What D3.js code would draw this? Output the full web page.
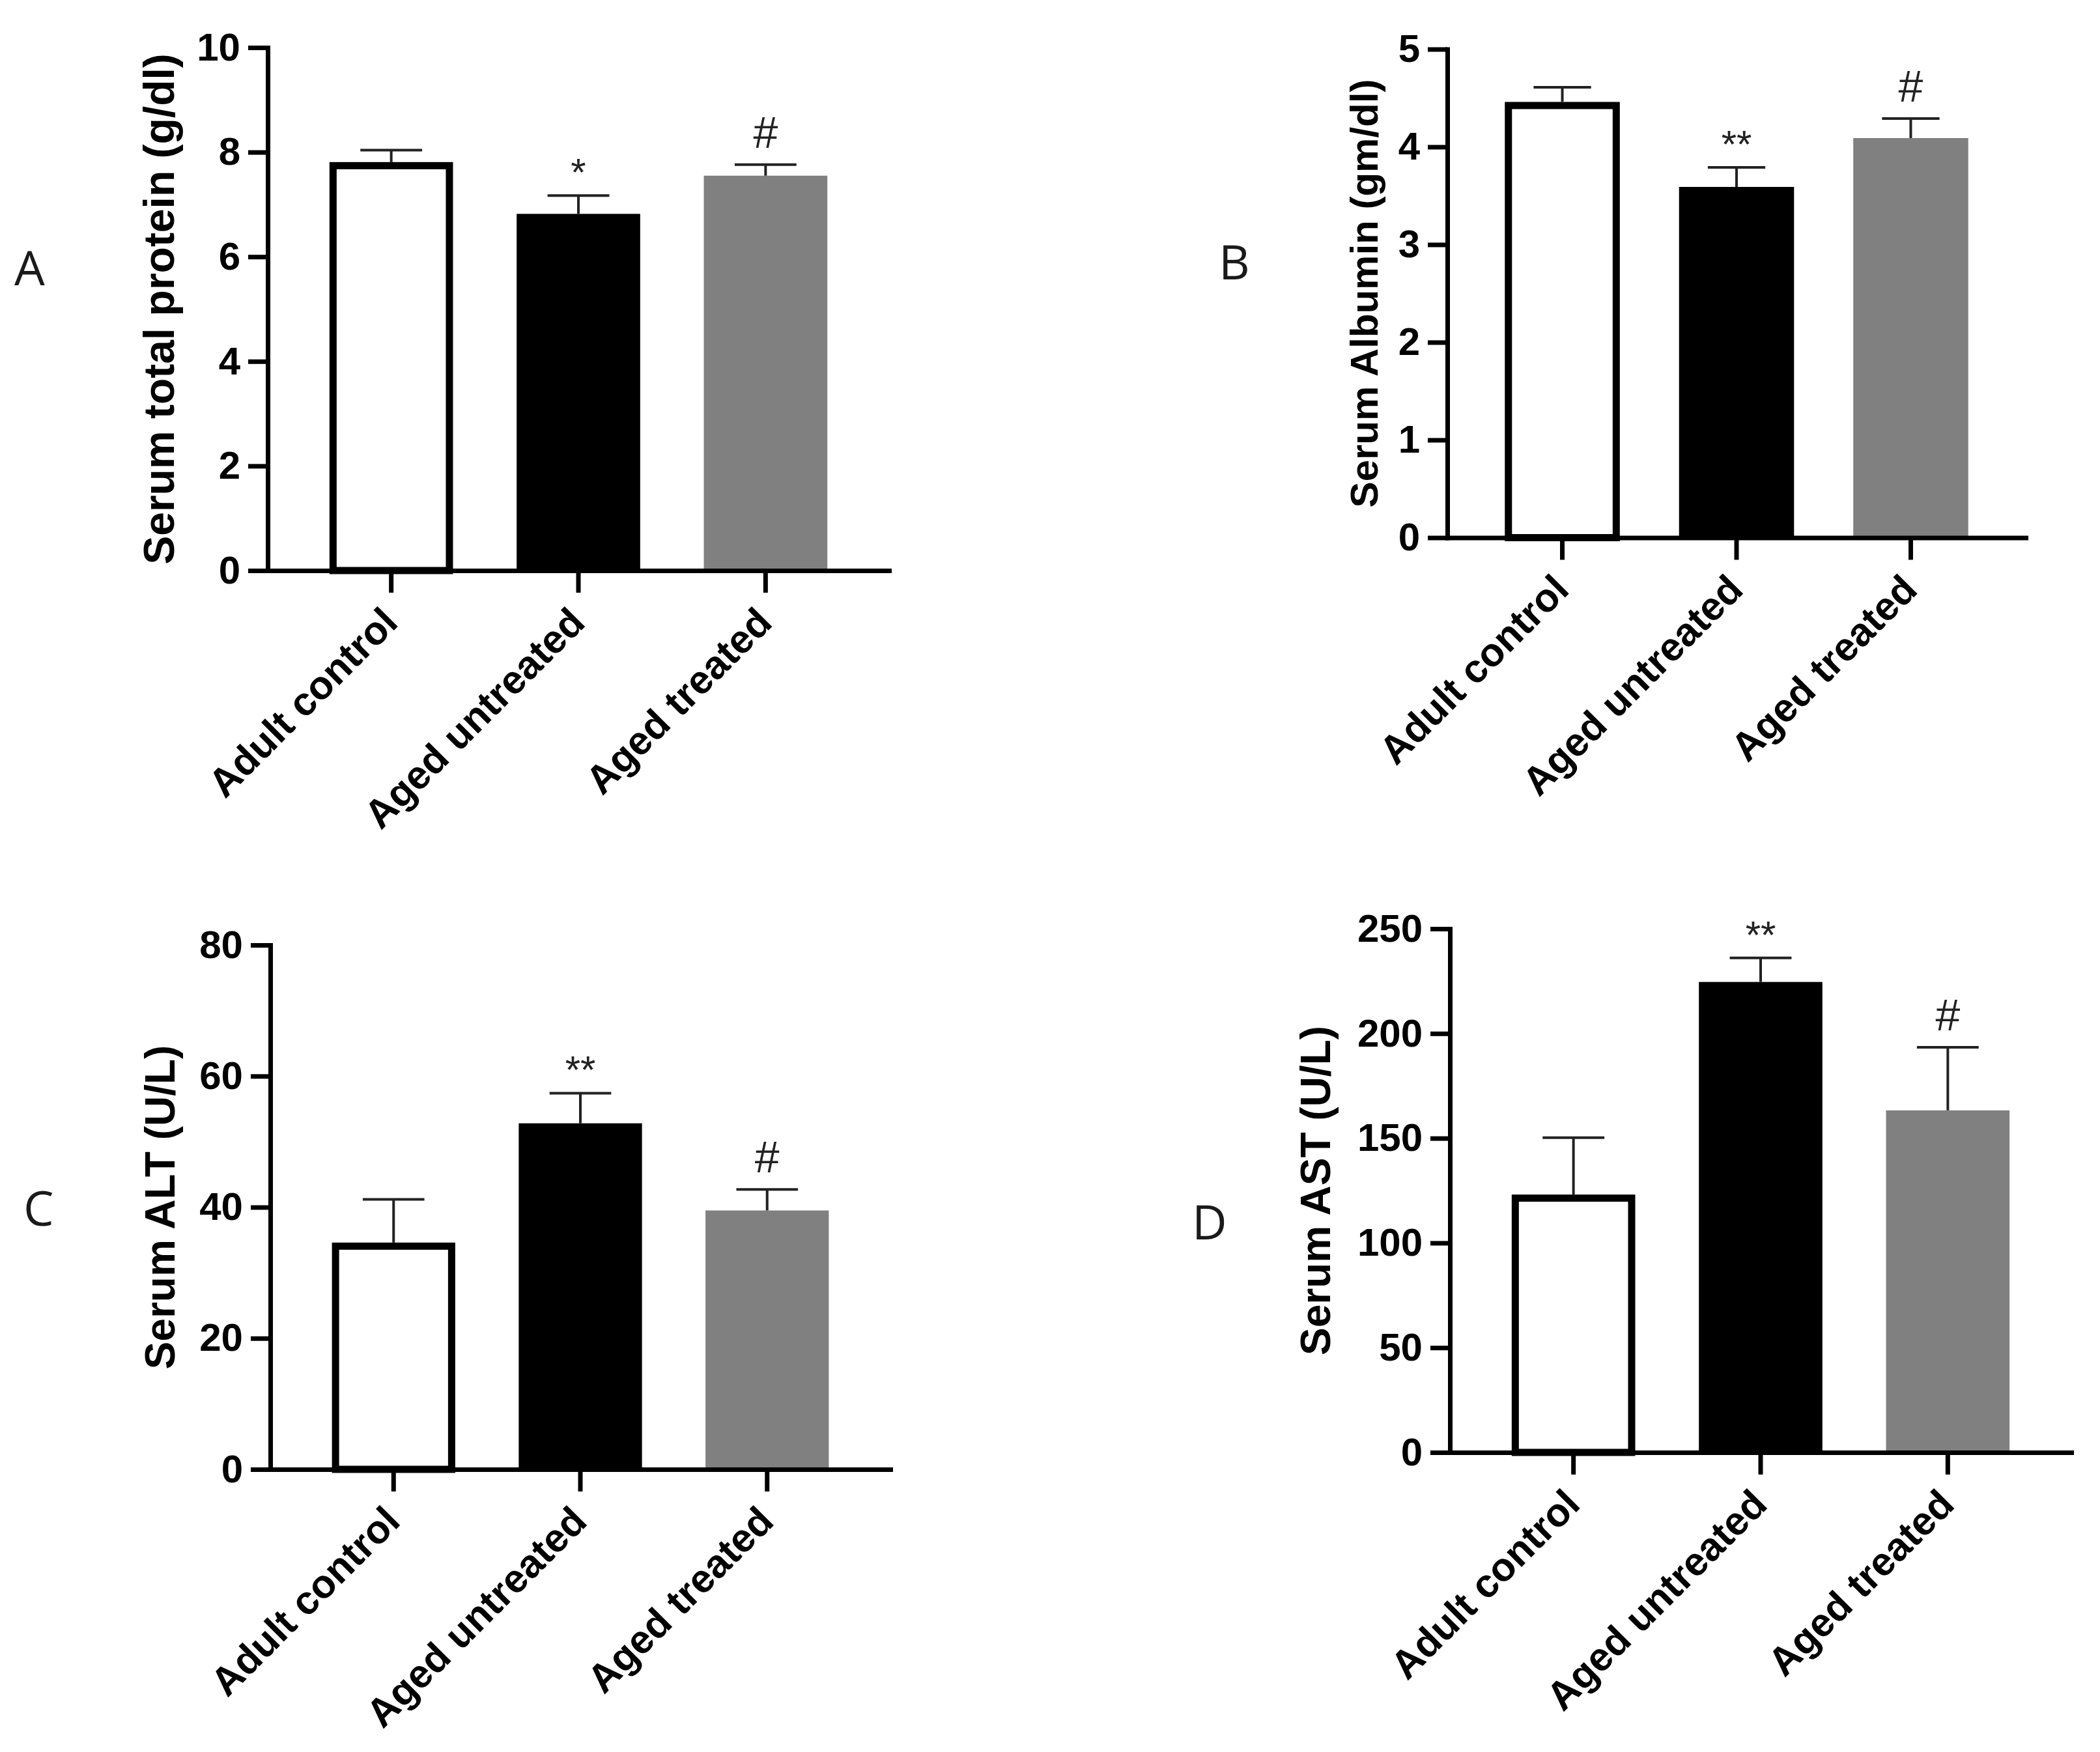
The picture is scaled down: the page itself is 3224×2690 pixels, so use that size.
<!DOCTYPE html>
<html>
<head>
<meta charset="utf-8">
<title>Serum proteins and liver enzymes</title>
<script src="https://cdn.jsdelivr.net/npm/d3@7/dist/d3.min.js"></script>
<style>
  body { margin: 0; background: #fff; }
  svg { display: block; }
</style>
</head>
<body>
<svg id="chart"></svg>
<script>
// groups on the x axis
var categories = ['Adult control', 'Aged untreated', 'Aged treated'];

// mean and SEM
var proteinMean = [7.81, 6.82, 7.55];
var proteinSem  = [0.23, 0.35, 0.21];
var albuminMean = [4.46, 3.59, 4.09];
var albuminSem  = [0.15, 0.20, 0.20];
var altMean = [34.6, 52.8, 39.5];
var altSem  = [6.6, 4.6, 3.2];
var astMean = [123.1, 224.6, 163.3];
var astSem  = [27.2, 11.5, 30.1];

// y tick labels
var proteinTicks = [0, 2, 4, 6, 8, 10];
var albuminTicks = [0, 1, 2, 3, 4, 5];
var altTicks = [0, 20, 40, 60, 80];
var astTicks = [0, 50, 100, 150, 200, 250];

// significance marks above the bars
var proteinSig = ['', '*', '#'];
var albuminSig = ['', '**', '#'];
var altSig = ['', '**', '#'];
var astSig = ['', '**', '#'];

var panelLetters = ['A', 'B', 'C', 'D'];
var yTitles = ['Serum total protein (g/dl)', 'Serum Albumin (gm/dl)', 'Serum ALT (U/L)', 'Serum AST (U/L)'];

var barFills = ['#fff', '#000', '#808080'];

// layout of each panel, in page pixels
var panels = [
  {mean: proteinMean, sem: proteinSem, ticks: proteinTicks, sig: proteinSig,
   left: 411, right: 1365, top: 73, bottom: 876, titleX: 244, titleSize: 66, letterX: 22, letterY: 438},
  {mean: albuminMean, sem: albuminSem, ticks: albuminTicks, sig: albuminSig,
   left: 2222, right: 3110, top: 75.5, bottom: 825.5, titleX: 2094, titleSize: 60, letterX: 1871, letterY: 429},
  {mean: altMean, sem: altSem, ticks: altTicks, sig: altSig,
   left: 415, right: 1367, top: 1451, bottom: 2256, titleX: 246, titleSize: 64, letterX: 36, letterY: 1882},
  {mean: astMean, sem: astSem, ticks: astTicks, sig: astSig,
   left: 2226, right: 3180, top: 1426, bottom: 2230, titleX: 2020, titleSize: 64, letterX: 1830, letterY: 1903}
];

var svg = d3.select('#chart')
  .attr('width', 3224)
  .attr('height', 2690);

svg.append('rect').attr('width', 3224).attr('height', 2690).attr('fill', '#fff');

var boldFont = '"Liberation Sans", Arial, Helvetica, sans-serif';

panels.forEach(function(p, k) {
  var g = svg.append('g');

  var x = d3.scaleBand()
    .domain(categories)
    .range([p.left, p.right])
    .paddingInner(0.34)
    .paddingOuter(0.33);

  var y = d3.scaleLinear()
    .domain([0, d3.max(p.ticks)])
    .range([p.bottom, p.top]);

  var rows = categories.map(function(c, i) {
    return {cat: c, mean: p.mean[i], sem: p.sem[i], sig: p.sig[i], fill: barFills[i]};
  });

  var bw = x.bandwidth();

  // bars (the white one carries a thick inner border)
  g.selectAll('.bar')
    .data(rows)
    .enter()
    .append('rect')
    .attr('class', 'bar')
    .attr('x', function(d) { return d.fill === '#fff' ? x(d.cat) + 5.5 : x(d.cat); })
    .attr('y', function(d) { return d.fill === '#fff' ? y(d.mean) + 5.5 : y(d.mean); })
    .attr('width', function(d) { return d.fill === '#fff' ? bw - 11 : bw; })
    .attr('height', function(d) { return y(0) - y(d.mean) - (d.fill === '#fff' ? 5.5 : 0); })
    .attr('fill', function(d) { return d.fill; })
    .attr('stroke', function(d) { return d.fill === '#fff' ? '#000' : 'none'; })
    .attr('stroke-width', 11);

  // upward error bars
  g.selectAll('.err')
    .data(rows)
    .enter()
    .append('line')
    .attr('class', 'err')
    .attr('x1', function(d) { return x(d.cat) + bw / 2; })
    .attr('x2', function(d) { return x(d.cat) + bw / 2; })
    .attr('y1', function(d) { return y(d.mean); })
    .attr('y2', function(d) { return y(d.mean + d.sem); })
    .attr('stroke', '#222')
    .attr('stroke-width', 4);

  g.selectAll('.cap')
    .data(rows)
    .enter()
    .append('line')
    .attr('class', 'cap')
    .attr('x1', function(d) { return x(d.cat) + bw / 4; })
    .attr('x2', function(d) { return x(d.cat) + bw * 3 / 4; })
    .attr('y1', function(d) { return y(d.mean + d.sem); })
    .attr('y2', function(d) { return y(d.mean + d.sem); })
    .attr('stroke', '#222')
    .attr('stroke-width', 4);

  // * and # marks
  g.selectAll('.sig')
    .data(rows.filter(function(d) { return d.sig; }))
    .enter()
    .append('text')
    .attr('class', 'sig')
    .attr('x', function(d) { return x(d.cat) + bw / 2; })
    .attr('y', function(d) { return y(d.mean + d.sem) - (d.sig === '#' ? 26 : 15); })
    .attr('text-anchor', 'middle')
    .attr('font-family', boldFont)
    .attr('font-size', function(d) { return d.sig === '#' ? 68 : 60; })
    .attr('fill', '#222')
    .text(function(d) { return d.sig; });

  // y axis
  var yAxis = g.append('g')
    .attr('transform', 'translate(' + p.left + ',0)')
    .call(d3.axisLeft(y).tickValues(p.ticks).tickFormat(d3.format('d'))
      .tickSize(30).tickSizeOuter(0).tickPadding(12));

  // x axis
  var xAxis = g.append('g')
    .attr('transform', 'translate(0,' + p.bottom + ')')
    .call(d3.axisBottom(x).tickSize(34).tickSizeOuter(0));

  [yAxis, xAxis].forEach(function(a) {
    a.select('.domain').attr('stroke', '#000').attr('stroke-width', 7).attr('stroke-linecap', 'square');
    a.selectAll('.tick line').attr('stroke', '#000').attr('stroke-width', 7);
    a.selectAll('.tick text')
      .attr('fill', '#000')
      .attr('font-family', boldFont)
      .attr('font-weight', 'bold');
  });

  yAxis.selectAll('.tick text').attr('font-size', 60);

  xAxis.selectAll('.tick text')
    .attr('font-size', 61)
    .attr('x', 0)
    .attr('y', 0)
    .attr('dy', '0.35em')
    .attr('transform', 'translate(-2,68) rotate(-45)')
    .attr('text-anchor', 'end');

  // y axis title
  g.append('text')
    .attr('transform', 'translate(' + p.titleX + ',' + (p.top + p.bottom) / 2 + ') rotate(-90)')
    .attr('dy', '0.35em')
    .attr('text-anchor', 'middle')
    .attr('font-family', boldFont)
    .attr('font-weight', 'bold')
    .attr('font-size', p.titleSize)
    .attr('fill', '#000')
    .text(yTitles[k]);

  // panel letter
  g.append('text')
    .attr('x', p.letterX)
    .attr('y', p.letterY)
    .attr('font-family', '"Open Sans", "Noto Sans", sans-serif')
    .attr('font-size', 74)
    .attr('fill', '#1a1a1a')
    .text(panelLetters[k]);
});
</script>
</body>
</html>
